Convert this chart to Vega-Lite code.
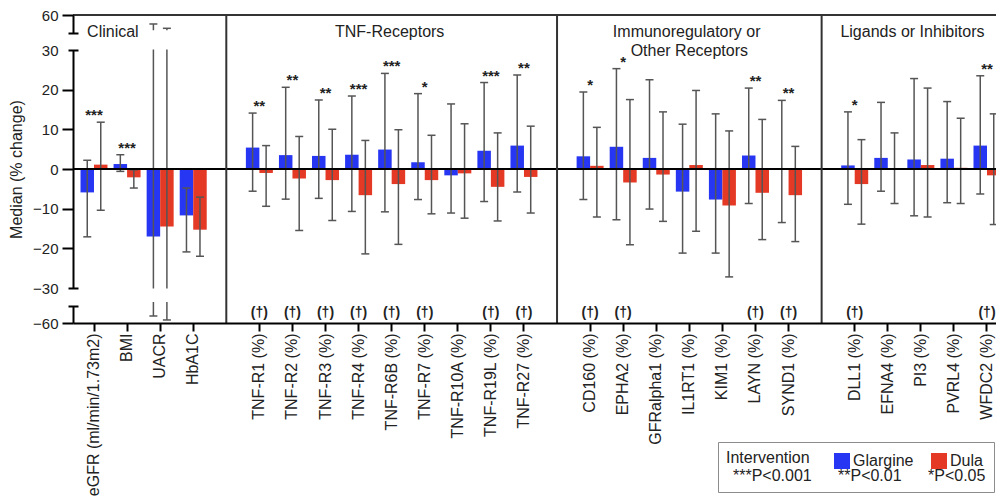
{
  "$schema": "https://vega.github.io/schema/vega-lite/v6.json",
  "width": 935,
  "height": 308,
  "autosize": {"type": "none"},
  "padding": {"left": 73, "top": 15, "right": -12, "bottom": 174},
  "background": "white",
  "config": {
    "view": {"stroke": null},
    "font": "Liberation Sans",
    "text": {"font": "Liberation Sans", "color": "#222"}
  },
  "resolve": {"axis": {"y": "independent"}},
  "datasets": {
    "bars": [
      {"m": "eGFR (ml/min/1.73m2)", "iv": "Glargine", "med": -5.9, "lo": -17.1, "hi": 2.2},
      {"m": "eGFR (ml/min/1.73m2)", "iv": "Dula", "med": 1.1, "lo": -10.4, "hi": 11.8},
      {"m": "BMI", "iv": "Glargine", "med": 1.25, "lo": -0.6, "hi": 3.6},
      {"m": "BMI", "iv": "Dula", "med": -2.1, "lo": -4.8, "hi": -0.2},
      {"m": "UACR", "iv": "Glargine", "med": -17.0, "lo": -54.0, "hi": 52.3},
      {"m": "UACR", "iv": "Dula", "med": -14.5, "lo": -57.4, "hi": 48.6},
      {"m": "HbA1C", "iv": "Glargine", "med": -11.7, "lo": -20.9, "hi": -4.8},
      {"m": "HbA1C", "iv": "Dula", "med": -15.3, "lo": -22.0, "hi": -7.1},
      {"m": "TNF-R1 (%)", "iv": "Glargine", "med": 5.4, "lo": -5.6, "hi": 14.1},
      {"m": "TNF-R1 (%)", "iv": "Dula", "med": -1.0, "lo": -9.4, "hi": 5.9},
      {"m": "TNF-R2 (%)", "iv": "Glargine", "med": 3.5, "lo": -7.6, "hi": 20.6},
      {"m": "TNF-R2 (%)", "iv": "Dula", "med": -2.4, "lo": -15.5, "hi": 8.2},
      {"m": "TNF-R3 (%)", "iv": "Glargine", "med": 3.3, "lo": -7.4, "hi": 17.4},
      {"m": "TNF-R3 (%)", "iv": "Dula", "med": -2.8, "lo": -13.0, "hi": 10.0},
      {"m": "TNF-R4 (%)", "iv": "Glargine", "med": 3.6, "lo": -10.7, "hi": 18.4},
      {"m": "TNF-R4 (%)", "iv": "Dula", "med": -6.6, "lo": -21.4, "hi": 7.2},
      {"m": "TNF-R6B (%)", "iv": "Glargine", "med": 4.9, "lo": -10.8, "hi": 24.1},
      {"m": "TNF-R6B (%)", "iv": "Dula", "med": -3.8, "lo": -19.0, "hi": 9.9},
      {"m": "TNF-R7 (%)", "iv": "Glargine", "med": 1.7, "lo": -7.7, "hi": 19.0},
      {"m": "TNF-R7 (%)", "iv": "Dula", "med": -2.8, "lo": -11.3, "hi": 8.5},
      {"m": "TNF-R10A (%)", "iv": "Glargine", "med": -1.6, "lo": -11.1, "hi": 16.4},
      {"m": "TNF-R10A (%)", "iv": "Dula", "med": -1.1, "lo": -12.4, "hi": 11.4},
      {"m": "TNF-R19L (%)", "iv": "Glargine", "med": 4.6, "lo": -8.2, "hi": 21.8},
      {"m": "TNF-R19L (%)", "iv": "Dula", "med": -4.5, "lo": -13.1, "hi": 9.1},
      {"m": "TNF-R27 (%)", "iv": "Glargine", "med": 5.9, "lo": -5.8, "hi": 23.7},
      {"m": "TNF-R27 (%)", "iv": "Dula", "med": -2.0, "lo": -11.1, "hi": 10.8},
      {"m": "CD160 (%)", "iv": "Glargine", "med": 3.2, "lo": -7.7, "hi": 19.4},
      {"m": "CD160 (%)", "iv": "Dula", "med": 0.8, "lo": -12.1, "hi": 10.5},
      {"m": "EPHA2 (%)", "iv": "Glargine", "med": 5.6, "lo": -12.8, "hi": 25.3},
      {"m": "EPHA2 (%)", "iv": "Dula", "med": -3.4, "lo": -19.1, "hi": 17.5},
      {"m": "GFRalpha1 (%)", "iv": "Glargine", "med": 2.8, "lo": -10.1, "hi": 22.5},
      {"m": "GFRalpha1 (%)", "iv": "Dula", "med": -1.4, "lo": -13.2, "hi": 14.4},
      {"m": "IL1RT1 (%)", "iv": "Glargine", "med": -5.7, "lo": -21.2, "hi": 11.3},
      {"m": "IL1RT1 (%)", "iv": "Dula", "med": 1.0, "lo": -15.7, "hi": 19.8},
      {"m": "KIM1 (%)", "iv": "Glargine", "med": -7.7, "lo": -21.2, "hi": 13.9},
      {"m": "KIM1 (%)", "iv": "Dula", "med": -9.2, "lo": -27.2, "hi": 9.6},
      {"m": "LAYN (%)", "iv": "Glargine", "med": 3.4, "lo": -8.7, "hi": 20.4},
      {"m": "LAYN (%)", "iv": "Dula", "med": -6.0, "lo": -17.8, "hi": 12.5},
      {"m": "SYND1 (%)", "iv": "Glargine", "med": 0.0, "lo": -13.5, "hi": 17.3},
      {"m": "SYND1 (%)", "iv": "Dula", "med": -6.6, "lo": -18.3, "hi": 5.7},
      {"m": "DLL1 (%)", "iv": "Glargine", "med": 0.9, "lo": -8.9, "hi": 14.4},
      {"m": "DLL1 (%)", "iv": "Dula", "med": -3.8, "lo": -13.9, "hi": 7.4},
      {"m": "EFNA4 (%)", "iv": "Glargine", "med": 2.8, "lo": -5.6, "hi": 16.8},
      {"m": "EFNA4 (%)", "iv": "Dula", "med": 0.0, "lo": -8.7, "hi": 9.1},
      {"m": "PI3 (%)", "iv": "Glargine", "med": 2.4, "lo": -11.8, "hi": 22.8},
      {"m": "PI3 (%)", "iv": "Dula", "med": 1.0, "lo": -12.1, "hi": 20.4},
      {"m": "PVRL4 (%)", "iv": "Glargine", "med": 2.6, "lo": -8.5, "hi": 17.0},
      {"m": "PVRL4 (%)", "iv": "Dula", "med": 0.3, "lo": -8.7, "hi": 12.8},
      {"m": "WFDC2 (%)", "iv": "Glargine", "med": 5.9, "lo": -6.3, "hi": 23.5},
      {"m": "WFDC2 (%)", "iv": "Dula", "med": -1.6, "lo": -14.0, "hi": 13.9}
    ],
    "markers": [
      {"m": "eGFR (ml/min/1.73m2)", "stars": "***", "dagger": false},
      {"m": "BMI", "stars": "***", "dagger": false},
      {"m": "UACR", "stars": "", "dagger": false},
      {"m": "HbA1C", "stars": "", "dagger": false},
      {"m": "TNF-R1 (%)", "stars": "**", "dagger": true},
      {"m": "TNF-R2 (%)", "stars": "**", "dagger": true},
      {"m": "TNF-R3 (%)", "stars": "**", "dagger": true},
      {"m": "TNF-R4 (%)", "stars": "***", "dagger": true},
      {"m": "TNF-R6B (%)", "stars": "***", "dagger": true},
      {"m": "TNF-R7 (%)", "stars": "*", "dagger": true},
      {"m": "TNF-R10A (%)", "stars": "", "dagger": false},
      {"m": "TNF-R19L (%)", "stars": "***", "dagger": true},
      {"m": "TNF-R27 (%)", "stars": "**", "dagger": true},
      {"m": "CD160 (%)", "stars": "*", "dagger": true},
      {"m": "EPHA2 (%)", "stars": "*", "dagger": true},
      {"m": "GFRalpha1 (%)", "stars": "", "dagger": false},
      {"m": "IL1RT1 (%)", "stars": "", "dagger": false},
      {"m": "KIM1 (%)", "stars": "", "dagger": false},
      {"m": "LAYN (%)", "stars": "**", "dagger": true},
      {"m": "SYND1 (%)", "stars": "**", "dagger": true},
      {"m": "DLL1 (%)", "stars": "*", "dagger": true},
      {"m": "EFNA4 (%)", "stars": "", "dagger": false},
      {"m": "PI3 (%)", "stars": "", "dagger": false},
      {"m": "PVRL4 (%)", "stars": "", "dagger": false},
      {"m": "WFDC2 (%)", "stars": "**", "dagger": true}
    ],
    "gaps": [{"m": "gap1"}, {"m": "gap2"}, {"m": "gap3"}],
    "one": [{"k": 1}]
  },
  "layer": [
    {
      "data": {"name": "bars"},
      "mark": {"type": "bar"},
      "encoding": {
        "x": {
          "field": "m", "type": "nominal", "sort": null, "title": null,
          "scale": {
            "domain": ["eGFR (ml/min/1.73m2)", "BMI", "UACR", "HbA1C", "gap1",
              "TNF-R1 (%)", "TNF-R2 (%)", "TNF-R3 (%)", "TNF-R4 (%)", "TNF-R6B (%)", "TNF-R7 (%)", "TNF-R10A (%)", "TNF-R19L (%)", "TNF-R27 (%)", "gap2",
              "CD160 (%)", "EPHA2 (%)", "GFRalpha1 (%)", "IL1RT1 (%)", "KIM1 (%)", "LAYN (%)", "SYND1 (%)", "gap3",
              "DLL1 (%)", "EFNA4 (%)", "PI3 (%)", "PVRL4 (%)", "WFDC2 (%)"],
            "paddingInner": 0, "paddingOuter": 0.135
          },
          "axis": {
            "values": ["eGFR (ml/min/1.73m2)", "BMI", "UACR", "HbA1C",
              "TNF-R1 (%)", "TNF-R2 (%)", "TNF-R3 (%)", "TNF-R4 (%)", "TNF-R6B (%)", "TNF-R7 (%)", "TNF-R10A (%)", "TNF-R19L (%)", "TNF-R27 (%)",
              "CD160 (%)", "EPHA2 (%)", "GFRalpha1 (%)", "IL1RT1 (%)", "KIM1 (%)", "LAYN (%)", "SYND1 (%)",
              "DLL1 (%)", "EFNA4 (%)", "PI3 (%)", "PVRL4 (%)", "WFDC2 (%)"],
            "labelAngle": 270, "labelAlign": "right", "labelBaseline": "middle",
            "labelFontSize": 16, "labelFont": "Liberation Sans", "labelColor": "#222",
            "labelPadding": 2, "labelLimit": 400, "labelOverlap": false,
            "tickSize": 8, "tickWidth": 2, "tickColor": "#000",
            "domainColor": "#000", "domainWidth": 2, "zindex": 1, "grid": false
          }
        },
        "xOffset": {"field": "iv", "type": "nominal", "sort": ["Glargine", "Dula"],
          "scale": {"domain": ["Glargine", "Dula"], "paddingInner": 0, "paddingOuter": 0.225}},
        "y": {
          "field": "med", "type": "quantitative",
          "scale": {"domain": [-60, -30, 30, 60], "range": [308, 273, 35, 0], "zero": false, "nice": false},
          "axis": {
            "values": [-60, -30, -20, -10, 0, 10, 20, 30, 60],
            "title": "Median (% change)", "titleFontSize": 16, "titleFontWeight": "normal",
            "titleFont": "Liberation Sans", "titleColor": "#222", "titlePadding": 8,
            "labelFontSize": 15, "labelFont": "Liberation Sans", "labelColor": "#222", "labelPadding": 4,
            "tickSize": 11, "tickWidth": 2, "tickColor": "#000",
            "tickOpacity": {"condition": {"test": "abs(datum.value) == 30", "value": 0}, "value": 1},
            "domainColor": "#000", "domainWidth": 2, "domainDash": [17.5, 17.5, 238, 17.5, 20],
            "grid": false, "zindex": 1
          }
        },
        "y2": {"datum": 0},
        "color": {
          "field": "iv", "type": "nominal",
          "scale": {"domain": ["Glargine", "Dula"], "range": ["#2736f2", "#e43a25"]},
          "legend": {
            "title": null, "orient": "none", "legendX": 761, "legendY": 438,
            "direction": "horizontal", "symbolType": "square", "symbolSize": 256,
            "symbolStrokeWidth": 0, "labelFontSize": 16, "labelFont": "Liberation Sans",
            "labelColor": "#222", "labelOffset": 3, "columnPadding": 17, "padding": 0, "zindex": 2
          }
        }
      }
    },
    {
      "data": {"name": "bars"},
      "mark": {"type": "rule", "color": "#555", "strokeWidth": 1.5},
      "encoding": {
        "x": {"field": "m", "type": "nominal", "title": null},
        "xOffset": {"field": "iv", "type": "nominal"},
        "y": {"field": "lo", "type": "quantitative", "axis": null},
        "y2": {"field": "hi"}
      }
    },
    {
      "data": {"name": "bars"},
      "mark": {"type": "tick", "color": "#555", "size": 8, "thickness": 1.5, "opacity": 1, "orient": "horizontal"},
      "encoding": {
        "x": {"field": "m", "type": "nominal", "title": null},
        "xOffset": {"field": "iv", "type": "nominal"},
        "y": {"field": "lo", "type": "quantitative", "axis": null}
      }
    },
    {
      "data": {"name": "bars"},
      "mark": {"type": "tick", "color": "#555", "size": 8, "thickness": 1.5, "opacity": 1, "orient": "horizontal"},
      "encoding": {
        "x": {"field": "m", "type": "nominal", "title": null},
        "xOffset": {"field": "iv", "type": "nominal"},
        "y": {"field": "hi", "type": "quantitative", "axis": null}
      }
    },
    {
      "data": {"name": "one"},
      "mark": {"type": "rect", "color": "white"},
      "encoding": {
        "y": {"datum": 30.4, "type": "quantitative", "axis": null},
        "y2": {"datum": 47}
      }
    },
    {
      "data": {"name": "one"},
      "mark": {"type": "rect", "color": "white"},
      "encoding": {
        "y": {"datum": -30.4, "type": "quantitative", "axis": null},
        "y2": {"datum": -42}
      }
    },
    {
      "data": {"name": "one"},
      "mark": {"type": "rule", "color": "#000", "strokeWidth": 2},
      "encoding": {
        "y": {"datum": 0, "type": "quantitative", "axis": null}
      }
    },
    {
      "data": {"name": "one"},
      "mark": {"type": "rule", "color": "#333", "strokeWidth": 2},
      "encoding": {
        "y": {
          "datum": 60, "type": "quantitative",
          "axis": {
            "orient": "left", "values": [-45, -30, 30, 45], "labels": false, "domain": false,
            "title": null, "tickSize": 10, "tickWidth": 2, "tickColor": "#000",
            "offset": -5, "grid": false, "zindex": 1
          }
        }
      }
    },
    {
      "data": {"name": "gaps"},
      "mark": {"type": "rule", "color": "#333", "strokeWidth": 2},
      "encoding": {
        "x": {"field": "m", "type": "nominal", "title": null}
      }
    },
    {
      "data": {"name": "bars"},
      "transform": [
        {"aggregate": [{"op": "max", "field": "hi", "as": "top"}], "groupby": ["m"]},
        {"lookup": "m", "from": {"data": {"name": "markers"}, "key": "m", "fields": ["stars"]}},
        {"filter": "datum.stars != ''"}
      ],
      "mark": {"type": "text", "fontSize": 15, "fontWeight": "bold", "baseline": "alphabetic", "dy": -2, "color": "#222"},
      "encoding": {
        "x": {"field": "m", "type": "nominal", "title": null},
        "y": {"field": "top", "type": "quantitative", "axis": null},
        "text": {"field": "stars"},
        "opacity": {
          "field": "stars", "type": "ordinal",
          "scale": {"domain": ["***", "**", "*"], "range": [1, 1]},
          "legend": {
            "title": "Intervention", "orient": "none", "legendX": 645, "legendY": 427,
            "direction": "horizontal", "titleFontSize": 16, "titleFontWeight": "normal",
            "titleFont": "Liberation Sans", "titleColor": "#222", "titlePadding": 2,
            "labelFontSize": 16, "labelFont": "Liberation Sans", "labelColor": "#222",
            "symbolSize": 0.01, "symbolOpacity": 0, "symbolStrokeWidth": 0.01, "labelOffset": -9, "columnPadding": 19,
            "padding": 8, "strokeColor": "#8c8c8c", "zindex": 1,
            "labelExpr": "datum.label == '***' ? '***P<0.001' : datum.label == '**' ? '**P<0.01' : '*P<0.05'"
          }
        }
      }
    },
    {
      "data": {"name": "markers"},
      "transform": [{"filter": "datum.dagger"}],
      "mark": {"type": "text", "fontSize": 14, "fontWeight": "bold", "baseline": "middle", "color": "#222"},
      "encoding": {
        "x": {"field": "m", "type": "nominal", "title": null},
        "y": {"datum": -51.4, "type": "quantitative", "axis": null},
        "text": {"value": "(†)"}
      }
    },
    {
      "data": {"name": "one"},
      "mark": {"type": "text", "fontSize": 16, "baseline": "middle", "align": "center", "color": "#222"},
      "encoding": {
        "x": {"datum": "BMI", "type": "nominal", "bandPosition": 0.07},
        "y": {"datum": 45.7, "type": "quantitative", "axis": null},
        "text": {"value": "Clinical"}
      }
    },
    {
      "data": {"name": "one"},
      "mark": {"type": "text", "fontSize": 16, "baseline": "middle", "align": "center", "color": "#222"},
      "encoding": {
        "x": {"datum": "TNF-R6B (%)", "type": "nominal", "bandPosition": 0.44},
        "y": {"datum": 45.7, "type": "quantitative", "axis": null},
        "text": {"value": "TNF-Receptors"}
      }
    },
    {
      "data": {"name": "one"},
      "mark": {"type": "text", "fontSize": 16, "baseline": "middle", "align": "center", "color": "#222"},
      "encoding": {
        "x": {"datum": "IL1RT1 (%)", "type": "nominal", "bandPosition": 0.42},
        "y": {"datum": 45.7, "type": "quantitative", "axis": null},
        "text": {"value": "Immunoregulatory or"}
      }
    },
    {
      "data": {"name": "one"},
      "mark": {"type": "text", "fontSize": 16, "baseline": "middle", "align": "center", "color": "#222"},
      "encoding": {
        "x": {"datum": "IL1RT1 (%)", "type": "nominal", "bandPosition": 0.5},
        "y": {"datum": 29.8, "type": "quantitative", "axis": null},
        "text": {"value": "Other Receptors"}
      }
    },
    {
      "data": {"name": "one"},
      "mark": {"type": "text", "fontSize": 16, "baseline": "middle", "align": "center", "color": "#222"},
      "encoding": {
        "x": {"datum": "PI3 (%)", "type": "nominal", "bandPosition": 0.246},
        "y": {"datum": 45.7, "type": "quantitative", "axis": null},
        "text": {"value": "Ligands or Inhibitors"}
      }
    }
  ]
}
